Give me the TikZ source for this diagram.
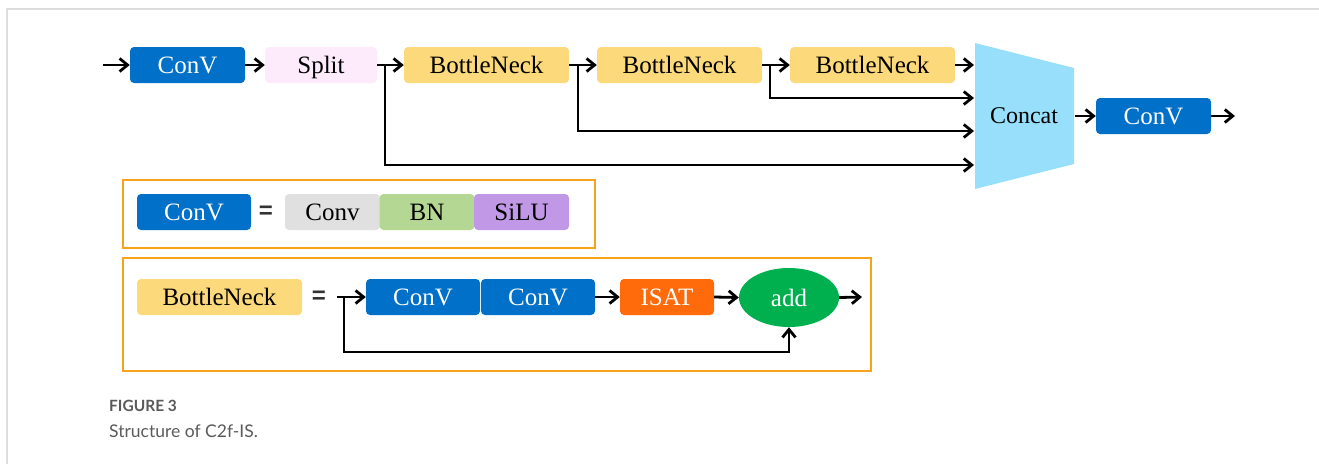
\documentclass[tikz,border=0pt]{standalone}
\usepackage{fontspec}
\setmainfont{Liberation Serif}
\newfontfamily\capfont{Lato}
\newfontfamily\eqfont{Liberation Sans}
\usetikzlibrary{arrows.meta,shapes.geometric}
\definecolor{convblue}{HTML}{0070C8}
\definecolor{splitpink}{HTML}{FDEBFB}
\definecolor{bnyellow}{HTML}{FCD97A}
\definecolor{concatblue}{HTML}{97DFFB}
\definecolor{convgray}{HTML}{E0E0E0}
\definecolor{bngreen}{HTML}{B4D893}
\definecolor{silupurple}{HTML}{C098E6}
\definecolor{isatorange}{HTML}{FF6A0A}
\definecolor{addgreen}{HTML}{00B04E}
\definecolor{panelorange}{HTML}{F7A21C}
\definecolor{framegray}{HTML}{DDDDDD}
\definecolor{captiongray}{HTML}{5A5A5A}
\begin{document}
\begin{tikzpicture}[x=1pt,y=-1pt,
  blk/.style={rounded corners=4pt, inner sep=0pt, minimum height=36pt,
    text height=17pt, text depth=0pt, font=\fontsize{25}{28}\selectfont},
  conv/.style={blk, fill=convblue, text=white, minimum width=115pt},
  bneck/.style={blk, fill=bnyellow, minimum width=165pt},
  third/.style={blk, minimum width=95pt},
  panel/.style={draw=panelorange, line width=2pt},
  link/.style={line width=2.8pt, line join=miter},
  arr/.style={link, -{Straight Barb[length=8pt,width=13pt,line width=2.8pt]}},
  eqsign/.style={font=\eqfont\bfseries\fontsize{24}{26}\selectfont, text=black!80, inner sep=0pt}]
\useasboundingbox (0,0) rectangle (1319,464);

% page frame
\draw[framegray, line width=2pt] (6.5,464) -- (6.5,8.5) -- (1319,8.5);

% ---------- main C2f row ----------
\coordinate (in) at (103,65);
\node[conv]  (cv1) at (187.5,65) {ConV};
\node[blk, fill=splitpink, minimum width=112pt] (split) at (321,65) {Split};
\node[bneck] (bn1) at (486.5,65) {BottleNeck};
\node[bneck] (bn2) at (679.5,65) {BottleNeck};
\node[bneck] (bn3) at (872.5,65) {BottleNeck};

% Concat block (trapezoid)
\fill[concatblue] (975,43) -- (1074,68) -- (1074,164) -- (975,189) -- cycle;
\node[font=\fontsize{24}{27}\selectfont, inner sep=0pt] (concat) at (1024,116) {Concat};
\coordinate (c1) at (974,65);
\coordinate (c2) at (974,98);
\coordinate (c3) at (974,131);
\coordinate (c4) at (974,165);
\coordinate (cout) at (1075,116);

\node[conv] (cv2) at (1153.5,116) {ConV};
\coordinate (out) at (1235,116);

% branch points
\coordinate (s1) at (385,65);
\coordinate (s2) at (578,65);
\coordinate (s3) at (770,65);

\draw[arr] (in) -- (cv1.west);
\draw[arr] (cv1.east) -- (split.west);
\draw[arr] (split.east) -- (bn1.west);
\draw[arr] (bn1.east) -- (bn2.west);
\draw[arr] (bn2.east) -- (bn3.west);
\draw[arr] (bn3.east) -- (c1);
\draw[arr] (s3) |- (c2);
\draw[arr] (s2) |- (c3);
\draw[arr] (s1) |- (c4);
\draw[arr] (cout) -- (cv2.west);
\draw[arr] (cv2.east) -- (out);

% ---------- ConV definition ----------
\draw[panel] (123,180) rectangle (595,248);
\node[conv, minimum width=114pt] (dcv) at (194,212) {ConV};
\node[eqsign] (eq1) at (266,212) {=};
\node[third, fill=convgray] (dconv) at (332.5,212) {Conv};
\node[third, fill=bngreen] (dbn) at (427,212) {BN};
\node[third, fill=silupurple] (dsilu) at (521.5,212) {SiLU};

% ---------- BottleNeck definition ----------
\draw[panel] (123,258) rectangle (871,371);
\node[bneck] (dbneck) at (219.5,297) {BottleNeck};
\node[eqsign] (eq2) at (319,297) {=};
\coordinate (bin) at (337,297);
\coordinate (lp) at (344,297);
\coordinate (lb) at (344,352);
\node[conv, minimum width=114pt] (bc1) at (423,297) {ConV};
\node[conv, minimum width=114pt] (bc2) at (538,297) {ConV};
\node[blk, fill=isatorange, text=white, minimum width=94pt] (isat) at (667,297) {ISAT};
\node[ellipse, fill=addgreen, text=white, minimum width=100pt, minimum height=59pt,
  inner sep=0pt, font=\fontsize{25}{28}\selectfont] (add) at (789,297.5) {add};
\coordinate (bout) at (862,297);

\draw[arr] (bin) -- (bc1.west);
\draw[arr] (bc2.east) -- (isat.west);
\draw[arr] (isat.east) -- (add.west);
\draw[arr] (add.east) -- (bout);
\draw[arr] (lp) -- (lb) -| (add.south);

% ---------- caption ----------
\node[anchor=west, inner sep=0pt, text=captiongray,
  font=\capfont\bfseries\fontsize{15.5}{18}\selectfont] (figlabel) at (109,406) {FIGURE 3};
\node[anchor=west, inner sep=0pt, text=captiongray,
  font=\capfont\fontsize{17.5}{21}\selectfont] (figtitle) at (109,431) {Structure of C2f-IS.};
\end{tikzpicture}
\end{document}
